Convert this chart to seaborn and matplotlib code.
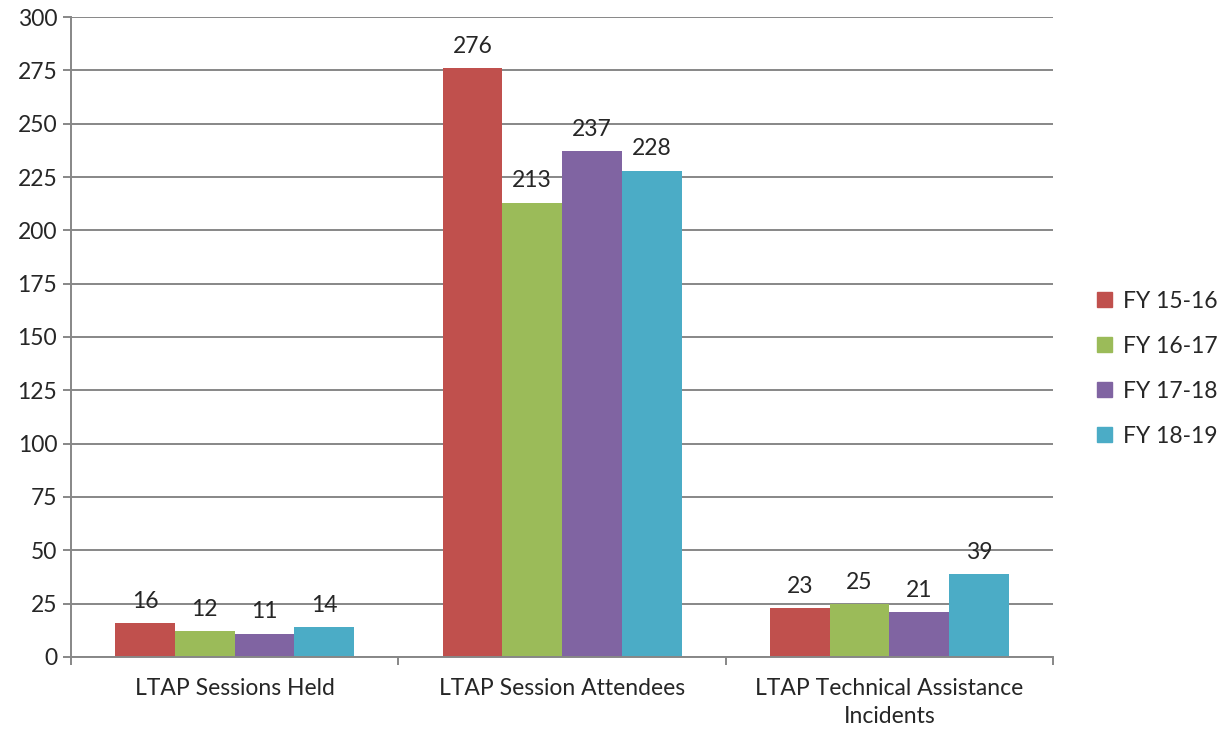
import pandas as pd
import matplotlib
matplotlib.use("Agg")
import matplotlib.pyplot as plt
import seaborn as sns

# Chart data
categories = ["LTAP Sessions Held", "LTAP Session Attendees", "LTAP Technical Assistance\nIncidents"]
years = ["FY 15-16", "FY 16-17", "FY 17-18", "FY 18-19"]
fy1516 = [16, 276, 23]
fy1617 = [12, 213, 25]
fy1718 = [11, 237, 21]
fy1819 = [14, 228, 39]
colors = ["#C0504D", "#9BBB59", "#8064A2", "#4BACC6"]

rows = []
for year, vals in zip(years, [fy1516, fy1617, fy1718, fy1819]):
    for cat, v in zip(categories, vals):
        rows.append({"Category": cat, "Year": year, "Value": v})
df = pd.DataFrame(rows)

sns.set_style("white")
plt.rcParams["font.family"] = ["Lato", "DejaVu Sans"]

fig = plt.figure(figsize=(12.25, 7.33), dpi=100)
ax = fig.add_axes([0.058, 0.1037, 0.8017, 0.8731])

sns.barplot(data=df, x="Category", y="Value", hue="Year", palette=colors,
            width=0.73, linewidth=0, saturation=1, ax=ax)

grid_col = "#878787"
ax.set_ylim(0, 300)
ax.set_xlim(-0.5, 2.5)
ax.set_yticks(range(0, 301, 25))
ax.yaxis.grid(True, color=grid_col, linewidth=1.4)
ax.set_axisbelow(True)
for s in ["top", "right"]:
    ax.spines[s].set_visible(False)
for s in ["left", "bottom"]:
    ax.spines[s].set_color(grid_col)
    ax.spines[s].set_linewidth(1.4)

ax.tick_params(axis="y", length=6, width=1.4, color=grid_col, labelsize=16.5, pad=4, left=True)
ax.tick_params(axis="x", which="major", length=0, labelsize=16.5, pad=15)
ax.set_xticks([-0.5, 0.5, 1.5, 2.5], minor=True)
ax.tick_params(axis="x", which="minor", length=6, width=1.4, color=grid_col, bottom=True)
for lbl in ax.get_xticklabels():
    lbl.set_linespacing(1.45)
ax.set_xlabel("")
ax.set_ylabel("")

for cont in ax.containers:
    ax.bar_label(cont, padding=8, fontsize=16.5)

ax.get_legend().remove()
handles = [plt.Rectangle((0, 0), 1, 1, color=c) for c in colors]
fig.legend(handles, years, loc="center left", bbox_to_anchor=(0.879, 0.497),
           frameon=False, fontsize=16.5, handlelength=0.65, handleheight=0.65,
           labelspacing=1.05, handletextpad=0.45)

fig.savefig("out.png", dpi=100)
